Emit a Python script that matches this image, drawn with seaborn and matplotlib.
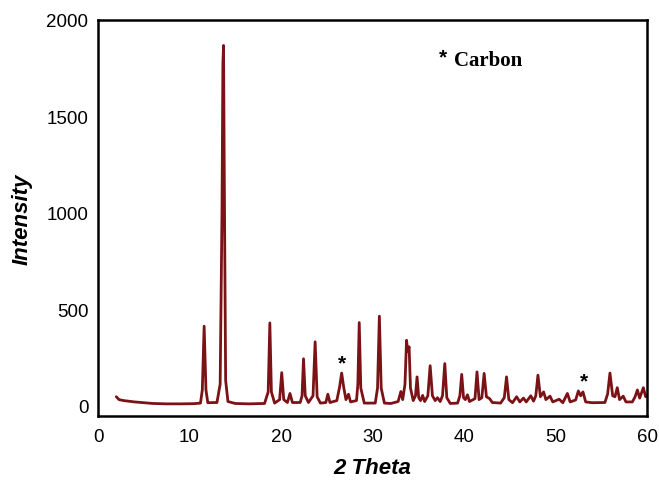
import matplotlib
matplotlib.use("Agg")
import matplotlib.pyplot as plt
import seaborn as sns
import pandas as pd
from matplotlib.ticker import MultipleLocator

# ---- data (2-theta, intensity) ----
two_theta = [
    2.0, 2.3, 2.8, 3.3, 4.0, 5.0, 6.0, 7.5, 9.0, 10.5, 11.2,
    11.4, 11.6, 11.8, 12.0,
    13.0, 13.35, 13.55, 13.65, 13.72, 13.8, 13.95, 14.2,
    15.0, 16.5, 18.2, 18.6, 18.78, 18.95, 19.3,
    19.85, 20.08, 20.3, 20.7, 20.98, 21.25,
    22.1, 22.3, 22.46, 22.65, 23.0, 23.5, 23.73, 23.95, 24.3,
    24.9, 25.12, 25.35, 26.1, 26.4, 26.63, 26.85, 27.1, 27.38, 27.6,
    28.25, 28.4, 28.55, 28.72, 29.1, 30.3, 30.55, 30.75, 30.95, 31.3,
    32.0, 32.8, 33.1, 33.3, 33.55, 33.72, 33.85, 34.0, 34.15, 34.45,
    34.7, 34.87, 35.05, 35.25, 35.48, 35.7, 36.05, 36.3, 36.55, 36.85,
    37.1, 37.4, 37.65, 37.9, 38.12, 38.5,
    39.3, 39.55, 39.75, 39.95, 40.15, 40.38, 40.6, 41.2, 41.42, 41.65,
    41.95, 42.2, 42.45, 42.8, 43.1,
    44.0, 44.4, 44.65, 44.9, 45.3, 45.75, 46.1, 46.5, 46.8, 47.3, 47.6,
    47.85, 48.08, 48.35, 48.7, 48.95, 49.4, 49.7, 50.4, 50.8, 51.3, 51.6,
    52.2, 52.5, 52.75, 53.0, 53.3, 54.0, 55.4, 55.7, 55.95, 56.25, 56.5,
    56.75, 57.0, 57.4, 57.7, 58.4, 58.7, 58.95, 59.2, 59.6, 59.85, 60.0,
]
intensity = [
    45, 30, 25, 22, 18, 14, 10, 8, 8, 9, 12,
    80, 411, 80, 14,
    15, 110, 1000, 1775, 1868, 1200, 130, 20,
    10, 8, 10, 70, 428, 70, 12,
    30, 170, 30, 15, 62, 15,
    15, 50, 242, 50, 15, 50, 330, 45, 12,
    15, 58, 15, 25, 95, 168, 95, 30, 58, 18,
    25, 110, 430, 90, 12, 12, 90, 463, 90, 12,
    10, 20, 72, 30, 110, 338, 280, 304, 90, 25,
    50, 148, 40, 25, 52, 20, 50, 206, 50, 25,
    40, 20, 50, 217, 40, 10,
    12, 50, 161, 40, 30, 55, 20, 35, 174, 30,
    40, 166, 45, 35, 15,
    12, 40, 148, 30, 14, 45, 18, 38, 18, 50, 22,
    50, 157, 45, 70, 30, 48, 18, 32, 14, 62, 18,
    28, 75, 50, 70, 18, 14, 15, 60, 168, 50, 45,
    92, 30, 48, 18, 18, 45, 80, 38, 92, 45, 50,
]

x_ticks = [0, 10, 20, 30, 40, 50, 60]
y_ticks = [0, 500, 1000, 1500, 2000]
carbon_marks_x = [26.7, 53.1]
carbon_marks_y = [172, 78]

df = pd.DataFrame({"2 Theta": two_theta, "Intensity": intensity})

sns.set_style("white")
plt.rcParams["font.family"] = ["Liberation Sans", "DejaVu Sans"]
plt.rcParams["text.color"] = "black"
plt.rcParams["axes.labelcolor"] = "black"

fig = plt.figure(figsize=(6.59, 4.81), dpi=100)
ax = fig.add_axes([98 / 659, 1 - 417 / 481, (647 - 98) / 659, (417 - 21) / 481])

line_color = "#7a1216"
sns.lineplot(data=df, x="2 Theta", y="Intensity", ax=ax, color=line_color,
             lw=2.0, sort=False, estimator=None)

ax.set_xlim(0, 60)
ax.set_ylim(-55, 2000)
ax.set_xticks(x_ticks)
ax.set_yticks(y_ticks)
ax.xaxis.set_minor_locator(MultipleLocator(5))
ax.yaxis.set_minor_locator(MultipleLocator(250))
ax.tick_params(axis="both", which="major", direction="in", length=5, width=1,
               labelsize=13.5, colors="black")
ax.tick_params(axis="both", which="minor", direction="in", length=4, width=1)
ax.tick_params(axis="x", which="major", pad=9)
ax.tick_params(axis="y", which="major", pad=7)
ax.tick_params(top=False, right=False, which="both")
for s in ax.spines.values():
    s.set_visible(True)
    s.set_color("black")
    s.set_linewidth(1.8)

ax.set_xlabel("2 Theta", fontsize=16, fontweight="bold", fontstyle="italic",
              labelpad=8, color="black")
ax.set_ylabel("Intensity", fontsize=16, fontweight="bold", fontstyle="italic",
              labelpad=10, color="black")

for cx, cy in zip(carbon_marks_x, carbon_marks_y):
    ax.text(cx, cy, "*", ha="center", va="bottom", fontsize=15, fontweight="bold",
            family=["Liberation Sans"], color="black")

ax.text(37.3, 1810, "*", ha="left", va="center", fontsize=15, fontweight="bold",
        family=["Liberation Sans"], color="black")
ax.text(38.9, 1790, "Carbon", ha="left", va="center", fontsize=15, fontweight="bold",
        family=["Liberation Serif"], color="black")

fig.savefig("out.png", dpi=100)
